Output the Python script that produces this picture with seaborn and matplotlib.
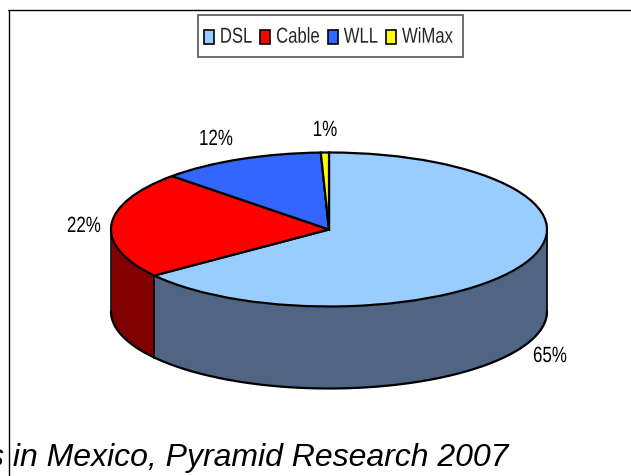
import numpy as np
import matplotlib
matplotlib.use('Agg')
import matplotlib.pyplot as plt
import matplotlib.patheffects as pe
from matplotlib.lines import Line2D
from matplotlib.patches import Patch, Rectangle
from matplotlib.transforms import Affine2D
import seaborn as sns

categories = ['DSL', 'Cable', 'WLL', 'WiMax']
shares = [64.8, 22.4, 12.2, 0.6]
top_colors = ['#99CCFF', '#FF0000', '#3366FF', '#FFFF00']
wall_colors = ['#4F6583', '#800000']
source_text = 's in Mexico, Pyramid Research 2007'

sns.set_style('white')
plt.rcParams['font.family'] = ['Liberation Sans', 'DejaVu Sans']

W, H = 631, 477
CX, CY, RX, RY, DEPTH = 329, 230.5, 218, 77, 82


def pos(px, py):
    # pixel position in the picture -> pie units
    return (px - CX) / RX, (CY - py) / RY


class Tall(pe.AbstractPathEffect):
    # the original labels look squeezed, stretch glyphs up from the baseline
    def __init__(self, sy):
        super().__init__()
        self.sy = sy

    def draw_path(self, renderer, gc, tpath, affine, rgbFace=None):
        m = affine.get_matrix().copy()
        m[1, 1] *= self.sy
        renderer.draw_path(gc, tpath, Affine2D(m), rgbFace)


fig = plt.figure(figsize=(W / 100, H / 100), dpi=100)
ax = fig.add_axes([0, 0, 1, 1])

ax.pie(shares, colors=top_colors, startangle=90, counterclock=False, radius=1,
       wedgeprops={'edgecolor': 'black', 'linewidth': 1.6, 'zorder': 3})
ax.set_aspect('auto')
ax.set_xlim(pos(0, 0)[0], pos(W, 0)[0])
ax.set_ylim(pos(0, H)[1], pos(0, 0)[1])

# side wall: only the front half shows
depth = DEPTH / RY
split = 90 - shares[0] / sum(shares) * 360
parts = [(0, split, wall_colors[0]), (split, -180, wall_colors[1])]
for a, b, c in parts:
    t = np.radians(np.linspace(a, b, 200))
    ax.fill_between(np.cos(t), np.sin(t), np.sin(t) - depth, color=c, linewidth=0, zorder=1)
    ax.plot(np.cos(t), np.sin(t) - depth, color='black', lw=1.6, zorder=2)
for a in [0, split, -180]:
    t = np.radians(a)
    ax.plot([np.cos(t)] * 2, [np.sin(t), np.sin(t) - depth], color='black', lw=1.2, zorder=2)

labels = [f'{round(s)}%' for s in shares]
label_px = [(550, 363), (84, 233), (216, 146), (325, 137)]
for lab, (px, py) in zip(labels, label_px):
    x, y = pos(px, py)
    ax.text(x, y, lab, fontsize=12.2, ha='center', va='baseline', color='black',
            path_effects=[Tall(1.3)])

# legend box is taller than the entries need, so it is drawn on its own
bx, by = pos(197.5, 58)
ax.add_patch(Rectangle((bx, by), 265 / RX, 42 / RY, facecolor='white', edgecolor='#555555',
                       linewidth=1.2, zorder=4))
handles = [Patch(facecolor=c, edgecolor='black', linewidth=1.2) for c in top_colors]
leg = ax.legend(handles, categories, ncol=4, loc='center', bbox_to_anchor=(328.5 / W, 1 - 39 / H),
                fontsize=12, frameon=False, handlelength=0.6, handleheight=0.85,
                handletextpad=0.36, columnspacing=0.48, borderpad=0, borderaxespad=0)
for t in leg.get_texts():
    t.set_path_effects([Tall(1.3)])

# chart border, runs off the right and bottom of the picture
fig.add_artist(Line2D([8.5 / W, 8.5 / W], [0, 1 - 10.5 / H], color='black', lw=1))
fig.add_artist(Line2D([8 / W, 1], [1 - 10.5 / H, 1 - 10.5 / H], color='black', lw=1))

fig.text(508 / W, 1 - 466 / H, source_text, fontsize=23, style='italic', ha='right', va='baseline',
         color='black')

fig.savefig('out.png', dpi=100, facecolor='white')
